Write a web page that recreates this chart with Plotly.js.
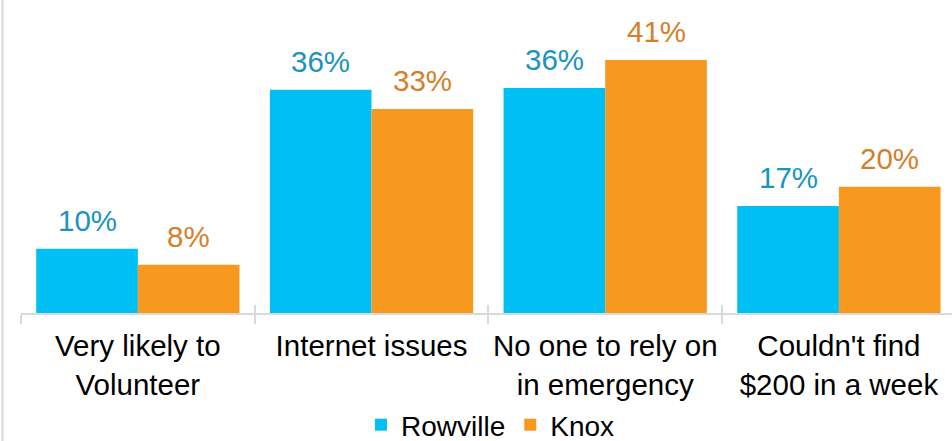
<!DOCTYPE html>
<html>
<head>
<meta charset="utf-8">
<script src="https://cdn.plot.ly/plotly-3.0.1.min.js"></script>
<style>html,body{margin:0;padding:0;background:#fff;}#chart{width:952px;height:441px;}</style>
</head>
<body>
<div id="chart"></div>
<script>
const categories = ["Very likely to<br>Volunteer", "Internet issues", "No one to rely on<br>in emergency", "Couldn't find<br>$200 in a week"];
const rowville = [10.4, 36.1, 36.4, 17.3];
const knox = [7.8, 33.0, 40.9, 20.4];
const seriesNames = ["Rowville", "Knox"];

const font = "Arial, 'Liberation Sans', sans-serif";
const FS = 29.5;
const BARGAP = 0.13;
const half = (1 - BARGAP) / 4;

const traces = [
  {type: "bar", name: seriesNames[0], x: categories, y: rowville, marker: {color: "#00C0F3"}},
  {type: "bar", name: seriesNames[1], x: categories, y: knox, marker: {color: "#F7991F"}},
  {type: "scatter", mode: "markers", x: categories, y: [null, null, null, null],
   xaxis: "x2", yaxis: "y", showlegend: false, hoverinfo: "skip"}
];

const annotations = [];
[[rowville, -half, "#1A94BF"], [knox, half, "#D4802A"]].forEach(([vals, off, col]) => {
  vals.forEach((v, i) => {
    annotations.push({x: i + off, y: v, xref: "x", yref: "y", text: Math.round(v) + "%",
      showarrow: false, yanchor: "bottom", yshift: 10,
      font: {size: FS, color: col, family: font}});
  });
});

const layout = {
  width: 952, height: 441,
  margin: {l: 21, r: 0, t: 10, b: 128, autoexpand: false},
  paper_bgcolor: "#fff", plot_bgcolor: "#fff",
  font: {family: font, size: FS, color: "#000"},
  barmode: "group", bargap: BARGAP, bargroupgap: 0,
  xaxis: {type: "category", range: [-0.5, 3.484], showline: true, linecolor: "#d9d9d9", linewidth: 2,
          ticks: "outside", tickson: "boundaries", ticklen: 9, tickwidth: 2, tickcolor: "#d9d9d9",
          ticklabelstandoff: 6, tickangle: 0, automargin: false,
          tickfont: {size: FS, color: "#000", family: font}, showgrid: false, zeroline: false, fixedrange: true},
  xaxis2: {type: "category", overlaying: "x", matches: "x", range: [-0.5, 3.484], showline: false,
           ticks: "inside", tickson: "boundaries", ticklen: 8, tickwidth: 2, tickcolor: "#d9d9d9",
           showticklabels: false, showgrid: false, zeroline: false},
  yaxis: {range: [0, 49.0], visible: false, showgrid: false, zeroline: false},
  showlegend: true,
  legend: {orientation: "h", x: 0.5043, xanchor: "center", yref: "paper", y: -0.3696, yanchor: "middle",
           font: {size: 28, color: "#000", family: font}, itemwidth: 30, traceorder: "normal"},
  annotations: annotations,
  shapes: [{type: "line", xref: "paper", yref: "paper", x0: -0.0199, x1: -0.0199, y0: -0.43, y1: 1.04,
            line: {color: "#d9d9d9", width: 2}}]
};
Plotly.newPlot("chart", traces, layout, {displayModeBar: false, staticPlot: true});
</script>
</body>
</html>
